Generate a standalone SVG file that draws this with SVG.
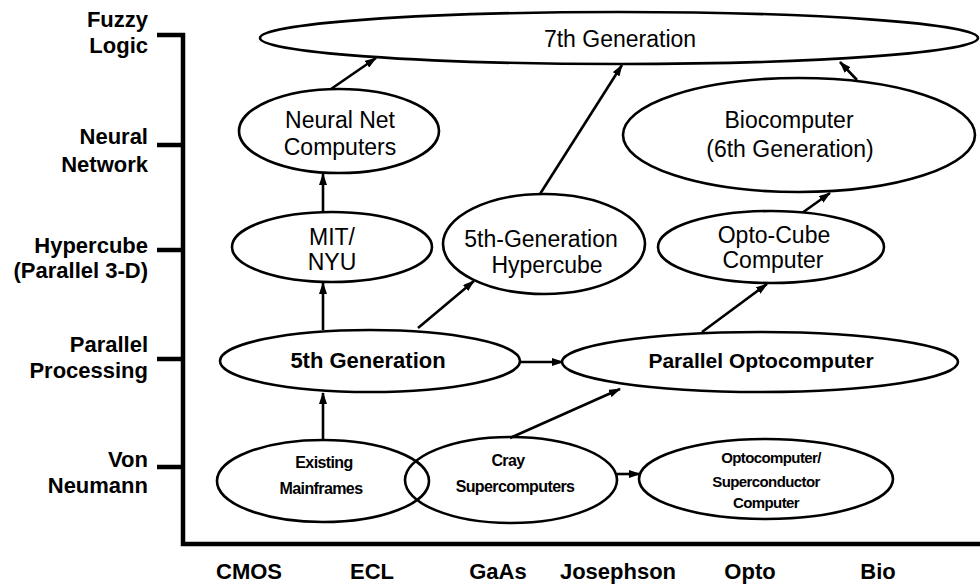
<svg xmlns="http://www.w3.org/2000/svg" width="980" height="586" viewBox="0 0 980 586">
  <style>
    text { font-family: "Liberation Sans", Arial, Helvetica, sans-serif; fill: #000; }
    .ax { font-size: 22px; font-weight: bold; text-anchor: end; }
    .tech { font-size: 22px; font-weight: bold; text-anchor: middle; }
    .n { font-size: 23px; text-anchor: middle; }
    .nb { font-size: 22px; font-weight: bold; text-anchor: middle; }
    .sm { font-size: 16px; font-weight: bold; text-anchor: middle; letter-spacing: -0.6px; }
    .xs { font-size: 15px; font-weight: bold; text-anchor: middle; letter-spacing: -0.6px; }
    .node ellipse { fill: #fff; stroke: #000; stroke-width: 2.6; }
    .links line { stroke: #000; stroke-width: 2.6; marker-end: url(#arrow); }
    .axis { fill: none; stroke: #000; stroke-width: 4.5; }
  </style>
  <defs>
    <marker id="arrow" viewBox="0 0 12 8" refX="11" refY="4" markerWidth="12" markerHeight="8" markerUnits="userSpaceOnUse" orient="auto">
      <path d="M0,0 L12,4 L0,8 z" fill="#000"/>
    </marker>
  </defs>

  <rect width="980" height="586" fill="#fff"/>

  <!-- axes with level ticks -->
  <g id="axes">
    <path class="axis" d="M157,35 H183 V544 H980"/>
    <path class="axis" d="M157,145 H183 M157,250 H183 M157,359 H183 M157,467 H183"/>
  </g>

  <!-- architecture levels (vertical axis) -->
  <g id="levels">
    <text class="ax" x="148" y="27">Fuzzy</text>
    <text class="ax" x="148" y="53">Logic</text>
    <text class="ax" x="148" y="144">Neural</text>
    <text class="ax" x="148" y="172">Network</text>
    <text class="ax" x="148" y="253">Hypercube</text>
    <text class="ax" x="148" y="278">(Parallel 3-D)</text>
    <text class="ax" x="148" y="352">Parallel</text>
    <text class="ax" x="148" y="378">Processing</text>
    <text class="ax" x="148" y="467">Von</text>
    <text class="ax" x="148" y="493">Neumann</text>
  </g>

  <!-- device technologies (horizontal axis) -->
  <g id="technologies">
    <text class="tech" x="249" y="579">CMOS</text>
    <text class="tech" x="372" y="579">ECL</text>
    <text class="tech" x="498" y="579">GaAs</text>
    <text class="tech" x="618" y="579">Josephson</text>
    <text class="tech" x="750" y="579">Opto</text>
    <text class="tech" x="878" y="579">Bio</text>
  </g>

  <!-- connectors -->
  <g id="connectors" class="links">
    <line x1="323" y1="439" x2="323" y2="393"/>
    <line x1="323" y1="330" x2="323" y2="283"/>
    <line x1="323" y1="212" x2="323" y2="174"/>
    <line x1="331" y1="89" x2="376" y2="58"/>
    <line x1="540" y1="194" x2="622" y2="65"/>
    <line x1="857" y1="80" x2="840" y2="62"/>
    <line x1="802" y1="213" x2="830" y2="193"/>
    <line x1="702" y1="332" x2="767" y2="284"/>
    <line x1="418" y1="328" x2="474" y2="281"/>
    <line x1="519" y1="362" x2="563" y2="362"/>
    <line x1="510" y1="438" x2="620" y2="389"/>
    <line x1="617" y1="474" x2="640" y2="474"/>
  </g>

  <g id="seventh-generation" class="node">
    <ellipse cx="619" cy="38" rx="359" ry="26"/>
    <text class="n" x="620" y="47">7th Generation</text>
  </g>

  <g id="neural-net-computers" class="node">
    <ellipse cx="339" cy="131" rx="100" ry="42"/>
    <text class="n" x="340" y="128">Neural Net</text>
    <text class="n" x="340" y="155">Computers</text>
  </g>

  <g id="biocomputer" class="node">
    <ellipse cx="799" cy="135" rx="176" ry="57"/>
    <text class="n" x="789" y="128">Biocomputer</text>
    <text class="n" x="790" y="157">(6th Generation)</text>
  </g>

  <g id="mit-nyu" class="node">
    <ellipse cx="332" cy="247" rx="100" ry="35"/>
    <text class="n" x="332" y="245">MIT/</text>
    <text class="n" x="332" y="270">NYU</text>
  </g>

  <g id="fifth-generation-hypercube" class="node">
    <ellipse cx="544" cy="244" rx="101" ry="50"/>
    <text class="n" x="541" y="247">5th-Generation</text>
    <text class="n" x="547" y="273">Hypercube</text>
  </g>

  <g id="opto-cube-computer" class="node">
    <ellipse cx="771" cy="247" rx="113" ry="36"/>
    <text class="n" x="774" y="243">Opto-Cube</text>
    <text class="n" x="773" y="268">Computer</text>
  </g>

  <g id="fifth-generation" class="node">
    <ellipse cx="370" cy="361" rx="150" ry="31"/>
    <text class="nb" x="368" y="368">5th Generation</text>
  </g>

  <g id="parallel-optocomputer" class="node">
    <ellipse cx="760" cy="362" rx="198" ry="30"/>
    <text class="nb" x="761" y="368" style="font-size:21px">Parallel Optocomputer</text>
  </g>

  <g id="cray-supercomputers" class="node">
    <ellipse cx="511" cy="480" rx="106" ry="43" style="fill:none"/>
    <text class="sm" x="508" y="466">Cray</text>
    <text class="sm" x="515" y="492">Supercomputers</text>
  </g>

  <g id="existing-mainframes" class="node">
    <ellipse cx="323" cy="481" rx="106" ry="41" style="fill:none"/>
    <text class="sm" x="324" y="468">Existing</text>
    <text class="sm" x="321" y="494">Mainframes</text>
  </g>

  <g id="optocomputer-superconductor" class="node">
    <ellipse cx="766" cy="479" rx="127" ry="40"/>
    <text class="xs" x="771" y="463">Optocomputer/</text>
    <text class="xs" x="766" y="487">Superconductor</text>
    <text class="xs" x="766" y="508">Computer</text>
  </g>
</svg>
